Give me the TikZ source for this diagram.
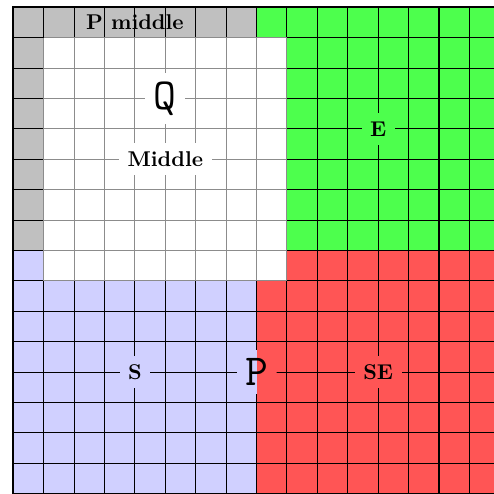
\documentclass[tikz,border=0pt]{standalone}
\usetikzlibrary{positioning}
\definecolor{cGray}{RGB}{192,192,192}
\definecolor{cGreen}{RGB}{77,255,77}
\definecolor{cLav}{RGB}{208,208,255}
\definecolor{cRed}{RGB}{255,85,85}
\tikzset{
  gridln/.style={draw=black, line width=0.5pt},
  gridlt/.style={draw=black!45, line width=0.5pt},
  lbl/.style={font=\bfseries, inner sep=4pt},
  biglbl/.style={font=\ttfamily\huge, inner sep=4pt},
}
\begin{document}
\begin{tikzpicture}[scale=0.5]
\useasboundingbox (-0.4375,0.02) rectangle (15.81,16.24);
% quadrants
\fill[cGray] (0,8) rectangle (8,16);
\fill[cGreen] (8,8) rectangle (16,16);
\fill[cLav] (0,0) rectangle (8,8);
\fill[cRed] (8,0) rectangle (16,8);
\draw[gridln] (0,0) grid (16,16);
% middle square
\fill[white] (1,7) rectangle (9,15);
\draw[gridlt] (1,7) grid (9,15);
\draw[line width=0.9pt] (0,0) -- (0,16) -- (16,16);
% labels
\node[lbl, inner sep=0pt] (pmid) at (4,15.5) {P middle};
\node[biglbl, fill=white] (q) at (5,13) {Q};
\node[lbl, fill=white] (mid) at (5,11) {Middle};
\node[lbl, fill=cGreen] (e) at (12,12) {E};
\node[lbl, fill=cLav] (s) at (4,4) {S};
\node[lbl, fill=cRed] (se) at (12,4) {SE};
\node[biglbl, path picture={
    \fill[cLav] (path picture bounding box.south west) rectangle (path picture bounding box.north);
    \fill[cRed] (path picture bounding box.south) rectangle (path picture bounding box.north east);
  }] (p) at (8,4) {P};
\end{tikzpicture}
\end{document}
